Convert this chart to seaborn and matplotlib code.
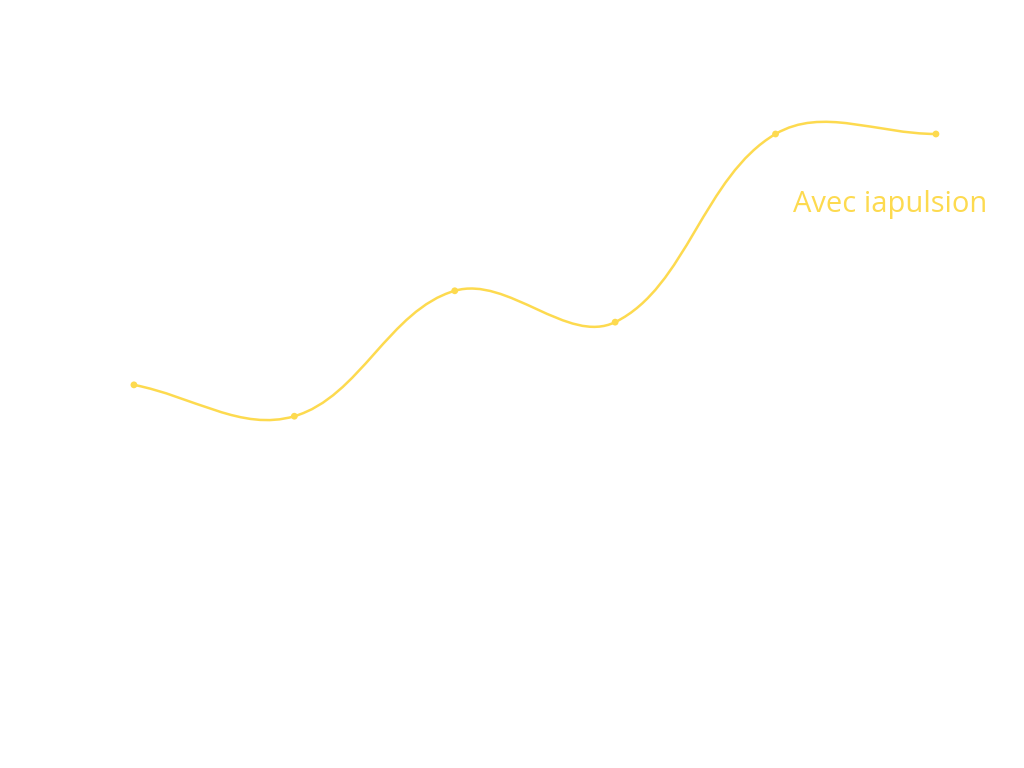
import matplotlib
matplotlib.use("Agg")
import matplotlib.pyplot as plt
import seaborn as sns
import numpy as np
import pandas as pd
from matplotlib.path import Path
from matplotlib.patches import PathPatch

# data
categories = ["1", "2", "3", "4", "5", "6"]
values = [40, 36, 52, 48, 72, 72]
series_label = "Avec iapulsion"
yellow = "#FDDA4F"


def spline_controls(pts, tension=0.37):
    # bezier control points, same idea as chart.js splineCurve
    n = len(pts)
    before, after = [], []
    for i in range(n):
        cur = pts[i]
        prev = pts[i - 1] if i > 0 else cur
        nxt = pts[i + 1] if i < n - 1 else cur
        d01 = np.hypot(*(cur - prev))
        d12 = np.hypot(*(nxt - cur))
        tot = d01 + d12
        s01 = d01 / tot if tot else 0
        s12 = d12 / tot if tot else 0
        before.append(cur - tension * s01 * (nxt - prev))
        after.append(cur + tension * s12 * (nxt - prev))
    return before, after


sns.set_style("white")
fig = plt.figure(figsize=(10.24, 7.68), dpi=100)
ax = fig.add_axes([0, 0, 1, 1])

df = pd.DataFrame({"x": np.arange(len(categories)), "y": values})
sns.scatterplot(data=df, x="x", y="y", ax=ax, color=yellow, s=24,
                edgecolor="none", zorder=3)

ax.set_xlim(-0.835, 5.549)
ax.set_ylim(-8.87, 89.09)
ax.axis("off")

# smooth line built in pixel space, then mapped back to data
trans = ax.transData
pix = trans.transform(df[["x", "y"]].to_numpy(dtype=float))
before, after = spline_controls(pix)
verts = [pix[0]]
codes = [Path.MOVETO]
for i in range(len(pix) - 1):
    verts += [after[i], before[i + 1], pix[i + 1]]
    codes += [Path.CURVE4] * 3
verts = trans.inverted().transform(np.array(verts))
ax.add_patch(PathPatch(Path(verts, codes), facecolor="none",
                       edgecolor=yellow, lw=1.8, zorder=2))

ax.text(5 - 0.89, 72 - 9.0, series_label, color=yellow, fontsize=21,
        family=["Open Sans", "DejaVu Sans"], weight="medium",
        va="center", ha="left")

fig.savefig("out.png", dpi=100)
